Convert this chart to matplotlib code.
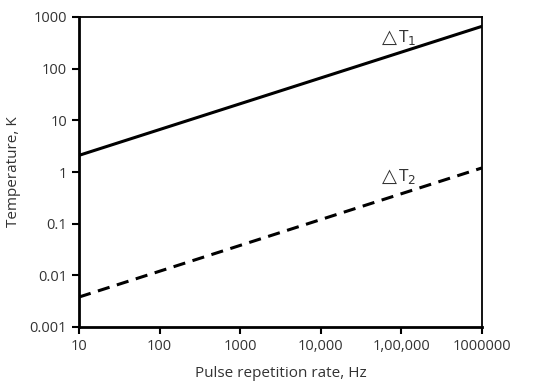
import numpy as np
import matplotlib as mpl
mpl.use("Agg")
import matplotlib.pyplot as plt
from matplotlib.ticker import FixedLocator, NullLocator

plt.rcParams['font.family'] = ['Open Sans', 'DejaVu Sans']

freq = [10, 1000000]
dT1 = [2.1, 660]
dT2 = [0.0038, 1.2]

xticks = [10, 100, 1000, 10000, 100000, 1000000]
xlabels = ["10", "100", "1000", "10,000", "1,00,000", "1000000"]
yticks = [0.001, 0.01, 0.1, 1, 10, 100, 1000]
ylabels = ["0.001", "0.01", "0.1", "1", "10", "100", "1000"]

col = "#333333"
fig = plt.figure(figsize=(5.44, 3.91), dpi=100)
ax = fig.add_axes([79/544, 1-327/391, 403/544, 310/391])

ax.plot(freq, dT1, color="black", lw=2.2)
ax.plot(freq, dT2, color="black", lw=2.2, ls=(0, (4, 2.5)))

ax.set_xscale("log")
ax.set_yscale("log")
ax.set_xlim(10, 1000000)
ax.set_ylim(0.001, 1000)
ax.xaxis.set_major_locator(FixedLocator(xticks))
ax.yaxis.set_major_locator(FixedLocator(yticks))
ax.xaxis.set_minor_locator(NullLocator())
ax.yaxis.set_minor_locator(NullLocator())
ax.set_xticklabels(xlabels)
ax.set_yticklabels(ylabels)
ax.tick_params(axis="both", direction="out", length=5, width=1.5, color="black",
               labelsize=10.5, labelcolor=col)

for s in ax.spines.values():
    s.set_linewidth(1.3)
ax.spines["left"].set_linewidth(2)
ax.spines["bottom"].set_linewidth(2)

ax.set_xlabel("Pulse repetition rate, Hz", fontsize=11, color=col, labelpad=9)
ax.set_ylabel("Temperature, K", fontsize=11, color=col, labelpad=6)

# triangle drawn in DejaVu, the T and subscript in Open Sans
for yfrac, sub in [(0.935, "1"), (0.485, "2")]:
    ax.text(0.752, yfrac, "\u25b3", transform=ax.transAxes, fontsize=14,
            family="DejaVu Sans", color=col, ha="left", va="center")
    ax.text(0.792, yfrac, "T$_" + sub + "$", transform=ax.transAxes, fontsize=12.5,
            color=col, ha="left", va="center")

fig.savefig("out.png", dpi=100)
